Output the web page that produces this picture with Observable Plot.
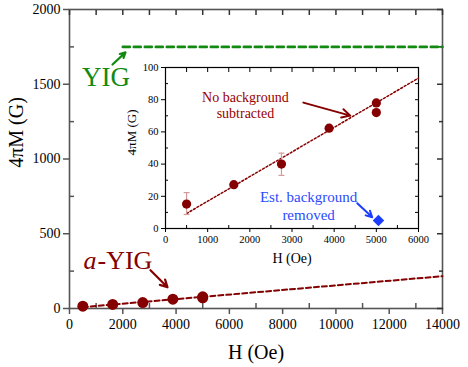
<!DOCTYPE html>
<html>
<head>
<meta charset="utf-8">
<script src="https://cdn.jsdelivr.net/npm/d3@7"></script>
<script src="https://cdn.jsdelivr.net/npm/@observablehq/plot@0.6"></script>
<style>
  body { margin: 0; background: white; }
  #wrap { position: relative; width: 468px; height: 367px; }
  #wrap svg { position: absolute; top: 0; left: 0; font-family: 'Liberation Serif', serif !important; }
  #wrap svg text { font-family: 'Liberation Serif', serif !important; }
</style>
</head>
<body>
<div id="wrap"></div>
<script>
// ---- data ----
const fieldH = [500, 1620, 2750, 3880, 5000, 5000];       // H (Oe)
const moment = [15.2, 27.2, 40, 62.3, 78, 72];           // 4πM (G)
const errH = [500, 2750];
const errLo = [8.7, 33];
const errHi = [22.3, 46.8];
const fitH = [500, 14000];
const fitM = [9, 216];
const insetFitH = [500, 6000];
const insetFitM = [9.3, 93.4];
const yigH = [2000, 14000];
const yigM = [1750, 1750];
const bgH = [5050];
const bgM = [5];

const mainXTicks = [0, 2000, 4000, 6000, 8000, 10000, 12000, 14000];
const mainXMinor = [1000, 3000, 5000, 7000, 9000, 11000, 13000];
const mainYTicks = [0, 500, 1000, 1500, 2000];
const mainYMinor = [250, 750, 1250, 1750];
const insetXTicks = [0, 1000, 2000, 3000, 4000, 5000, 6000];
const insetXMinor = [500, 1500, 2500, 3500, 4500, 5500];
const insetYTicks = [0, 20, 40, 60, 80, 100];
const insetYMinor = [10, 30, 50, 70, 90];

const pts = fieldH.map((h, i) => ({h, m: moment[i]}));
const errs = errH.map((h, i) => ({h, lo: errLo[i], hi: errHi[i]}));
const fit = fitH.map((h, i) => ({h, m: fitM[i]}));
const insetFit = insetFitH.map((h, i) => ({h, m: insetFitM[i]}));
const yig = yigH.map((h, i) => ({h, m: yigM[i]}));
const bg = bgH.map((h, i) => ({h, m: bgM[i]}));

const FONT = "'Liberation Serif', serif";
const DARKRED = "#850000";
const GREEN = "#128a12";
const BLUE = "#1c3cff";
const fmt = d => String(d);
const none = () => "";

const main = Plot.plot({
  width: 468, height: 367,
  marginLeft: 69, marginRight: 26, marginTop: 9, marginBottom: 59,
  x: {domain: [0, 14000]},
  y: {domain: [0, 2000]},
  style: {fontFamily: FONT, fontSize: "14px", background: "white", color: "black"},
  marks: [
    Plot.frame({stroke: "#555", strokeWidth: 1.6}),
    Plot.axisX({ticks: mainXTicks, tickSize: 6, tickPadding: 5, tickFormat: fmt, label: null, stroke: "#555", strokeWidth: 1.5, fontFamily: FONT, fontSize: 14}),
    Plot.axisX({ticks: mainXMinor, tickSize: -5, tickFormat: none, label: null, stroke: "#555", strokeWidth: 1.5}),
    Plot.axisX({anchor: "top", ticks: mainXTicks.concat(mainXMinor), tickSize: -5, tickFormat: none, label: null, stroke: "#333", strokeWidth: 1.5}),
    Plot.axisY({ticks: mainYTicks, tickSize: 6, tickPadding: 3, tickFormat: fmt, label: null, stroke: "#555", strokeWidth: 1.5, fontFamily: FONT, fontSize: 14}),
    Plot.axisY({ticks: mainYMinor, tickSize: -5, tickFormat: none, label: null, stroke: "#555", strokeWidth: 1.5}),
    Plot.axisY({anchor: "right", ticks: mainYTicks, tickSize: -6, tickFormat: none, label: null, stroke: "#333", strokeWidth: 1.5}),
    Plot.axisY({anchor: "right", ticks: mainYMinor, tickSize: -4, tickFormat: none, label: null, stroke: "#333", strokeWidth: 1.5}),
    Plot.line(yig, {x: "h", y: "m", stroke: GREEN, strokeWidth: 2.6, strokeDasharray: "7,4"}),
    Plot.line(fit, {x: "h", y: "m", stroke: DARKRED, strokeWidth: 2, strokeDasharray: "5,3"}),
    Plot.dot(pts, {x: "h", y: "m", r: 5.5, fill: DARKRED}),
    Plot.arrow([0], {x1: 1614, y1: 1632, x2: 2102, y2: 1713, stroke: GREEN, strokeWidth: 2.2, headLength: 8, headAngle: 55}),
    Plot.arrow([0], {x1: 3040, y1: 256, x2: 3679, y2: 142, stroke: DARKRED, strokeWidth: 2.2, headLength: 8, headAngle: 55}),
    Plot.text(["YIG"], {text: d => d, x: 1370, y: 1546, fill: GREEN, fontSize: 27, fontFamily: FONT, lineAnchor: "middle"}),
    Plot.text(["a"], {text: d => d, x: 525, y: 323, fill: DARKRED, fontSize: 26, fontFamily: FONT, fontStyle: "italic", textAnchor: "start", lineAnchor: "middle"}),
    Plot.text(["-YIG"], {text: d => d, x: 1051, y: 323, fill: DARKRED, fontSize: 26, fontFamily: FONT, textAnchor: "start", lineAnchor: "middle"}),
    Plot.text(["H (Oe)"], {text: d => d, frameAnchor: "bottom", dy: 44.3, fontSize: 20, fontFamily: FONT, lineAnchor: "middle"}),
    Plot.text(["4πM (G)"], {text: d => d, y: 941, frameAnchor: "left", dx: -52.5, rotate: -90, fontSize: 20, fontFamily: FONT, lineAnchor: "middle"})
  ]
});

const inset = Plot.plot({
  width: 468, height: 367,
  marginLeft: 165, marginRight: 50, marginTop: 67, marginBottom: 139,
  x: {domain: [0, 6000]},
  y: {domain: [0, 100]},
  style: {fontFamily: FONT, fontSize: "10.5px", background: "transparent", color: "black", overflow: "visible"},
  marks: [
    Plot.frame({fill: "white", stroke: "black", strokeWidth: 1.2}),
    Plot.axisX({ticks: insetXTicks, tickSize: 4, tickPadding: 3, tickFormat: fmt, label: null, fontFamily: FONT, fontSize: 10.5}),
    Plot.axisX({ticks: insetXMinor, tickSize: -3, tickFormat: none, label: null}),
    Plot.axisX({anchor: "top", ticks: insetXTicks.concat(insetXMinor), tickSize: -4, tickFormat: none, label: null}),
    Plot.axisY({ticks: insetYTicks, tickSize: 4, tickPadding: 3, tickFormat: fmt, label: null, fontFamily: FONT, fontSize: 10.5}),
    Plot.axisY({ticks: insetYMinor, tickSize: -3, tickFormat: none, label: null}),
    Plot.axisY({anchor: "right", ticks: insetYTicks.concat(insetYMinor), tickSize: -4, tickFormat: none, label: null}),
    Plot.line(insetFit, {x: "h", y: "m", stroke: DARKRED, strokeWidth: 1.5, strokeDasharray: "2,2"}),
    Plot.ruleX(errs, {x: "h", y1: "lo", y2: "hi", stroke: "#d49a9a", strokeWidth: 1.2}),
    Plot.link(errs, {x1: d => d.h - 70, x2: d => d.h + 70, y1: "lo", y2: "lo", stroke: "#d49a9a", strokeWidth: 1.2}),
    Plot.link(errs, {x1: d => d.h - 70, x2: d => d.h + 70, y1: "hi", y2: "hi", stroke: "#d49a9a", strokeWidth: 1.2}),
    Plot.dot(pts, {x: "h", y: "m", r: 4.6, fill: DARKRED}),
    Plot.dot(bg, {x: "h", y: "m", r: 5.2, symbol: "diamond2", fill: BLUE}),
    Plot.arrow([0], {x1: 3269, y1: 78.2, x2: 4382, y2: 70.1, stroke: DARKRED, strokeWidth: 2, headLength: 7, headAngle: 55}),
    Plot.arrow([0], {x1: 4548, y1: 15.7, x2: 4903, y2: 7, stroke: BLUE, strokeWidth: 2, headLength: 7, headAngle: 55}),
    Plot.text(["No background\nsubtracted"], {text: d => d, x: 1895, y: 77, fill: "#990000", fontSize: 14, fontFamily: FONT, lineHeight: 1.2, lineAnchor: "middle"}),
    Plot.text(["Est. background\nremoved"], {text: d => d, x: 3394, y: 14.3, fill: "#2a4bff", fontSize: 15, fontFamily: FONT, lineHeight: 1.2, lineAnchor: "middle"}),
    Plot.text(["H (Oe)"], {text: d => d, frameAnchor: "bottom", dy: 30.2, fontSize: 14, fontFamily: FONT, lineAnchor: "middle"}),
    Plot.text(["4πM (G)"], {text: d => d, y: 45.4, frameAnchor: "left", dx: -33.7, rotate: -90, fontSize: 13, fontFamily: FONT, lineAnchor: "middle"})
  ]
});

const wrap = document.getElementById("wrap");
wrap.appendChild(main);
wrap.appendChild(inset);
</script>
</body>
</html>
